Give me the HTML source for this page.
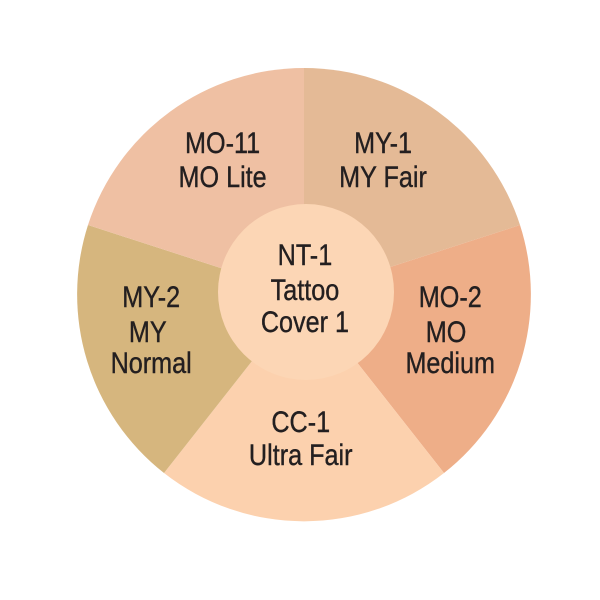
<!DOCTYPE html>
<html><head><meta charset="utf-8"><style>
html,body{margin:0;padding:0;background:#fff;width:600px;height:600px;overflow:hidden}
text{font-family:"Liberation Sans Narrow","Liberation Sans",sans-serif;font-size:30px;fill:#231f20;stroke:#231f20;stroke-width:0.4;text-anchor:middle}
</style></head><body>
<svg width="600" height="600" viewBox="0 0 600 600" xmlns="http://www.w3.org/2000/svg">
<g transform="translate(304,295)">
<path d="M0,0 L0,-227 A227,227 0 0 1 216,-70 Z" fill="#e4ba96"/>
<path d="M0,0 L216,-70 A227,227 0 0 1 140,178 Z" fill="#eeae88"/>
<path d="M0,0 L140,178 A227,227 0 0 1 -140,178 Z" fill="#fcd1ae"/>
<path d="M0,0 L-140,178 A227,227 0 0 1 -216,-70 Z" fill="#d6b67e"/>
<path d="M0,0 L-216,-70 A227,227 0 0 1 0,-227 Z" fill="#efc0a3"/>
</g>
<circle cx="306" cy="292" r="88" fill="#fcd6b5"/>
<g transform="scale(0.84,1)">
<text x="265" y="153">MO-11</text><text x="265" y="187">MO Lite</text>
<text x="456" y="153">MY-1</text><text x="456" y="187">MY Fair</text>
<text x="363" y="265">NT-1</text><text x="363" y="300">Tattoo</text><text x="363" y="332">Cover 1</text>
<text x="180" y="307">MY-2</text><text x="176" y="342">MY</text><text x="180" y="373">Normal</text>
<text x="536" y="307">MO-2</text><text x="531" y="342">MO</text><text x="536" y="373">Medium</text>
<text x="358" y="432">CC-1</text><text x="358" y="465">Ultra Fair</text>
</g>
</svg>
</body></html>
